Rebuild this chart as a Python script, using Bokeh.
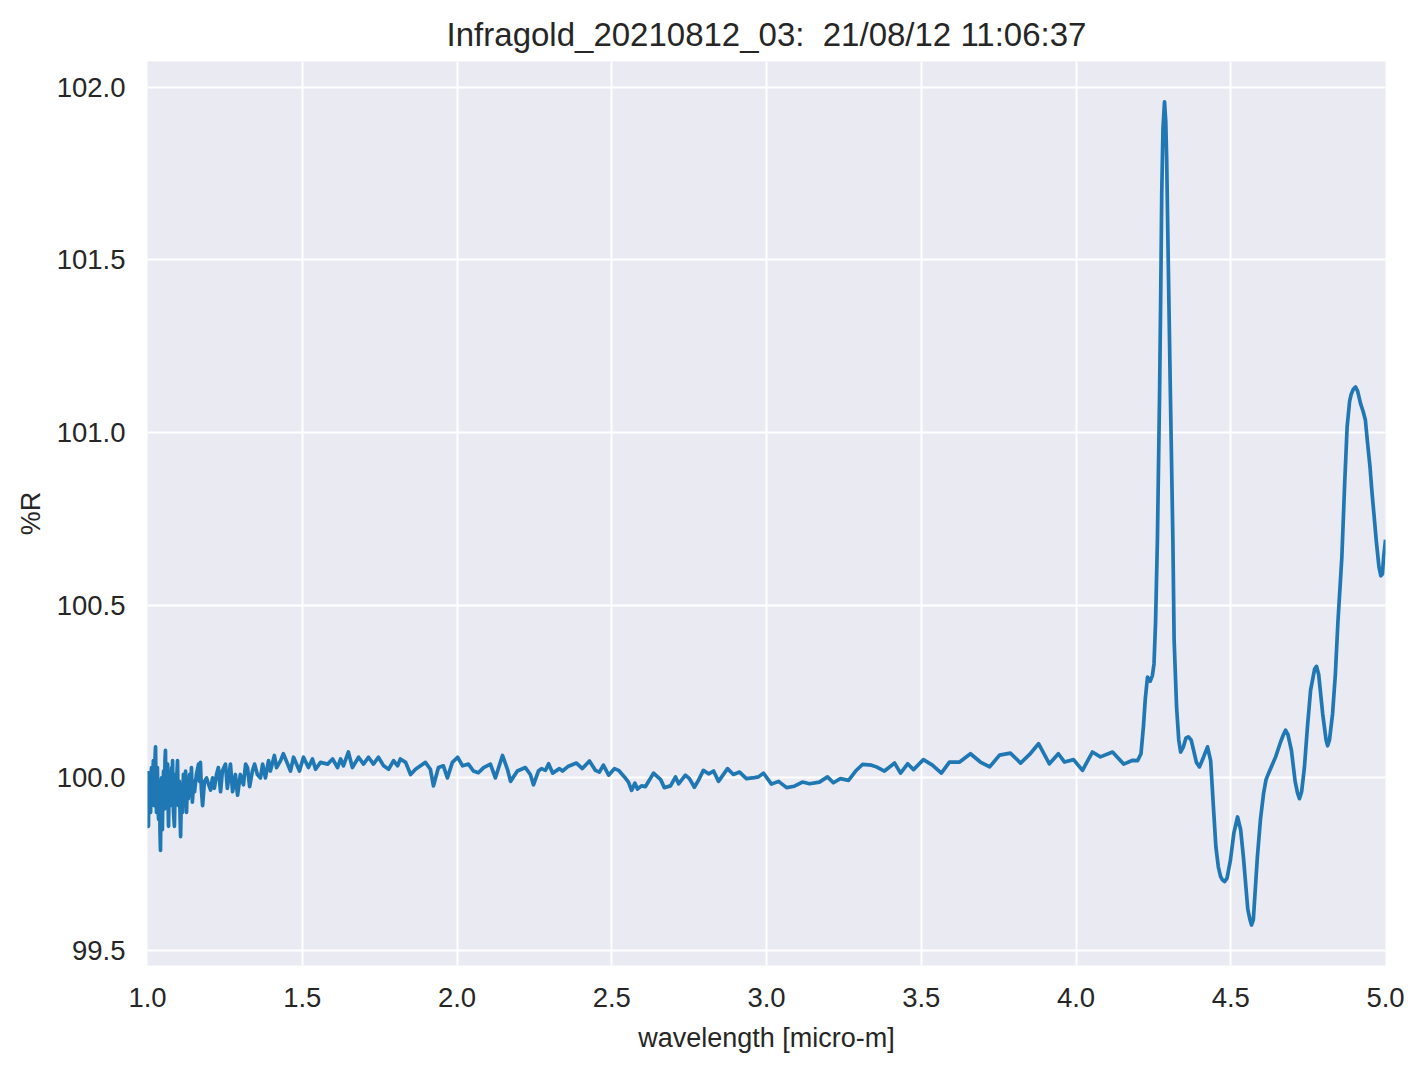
from bokeh.plotting import figure
from bokeh.models import Range1d, FixedTicker, NumeralTickFormatter
from bokeh.embed import file_html
from bokeh.resources import INLINE

TITLE = "Infragold_20210812_03:\u00a0 21/08/12 11:06:37"
X_LABEL = "wavelength [micro-m]"
Y_LABEL = "%R"
x_ticks = [1.0, 1.5, 2.0, 2.5, 3.0, 3.5, 4.0, 4.5, 5.0]
y_ticks = [99.5, 100.0, 100.5, 101.0, 101.5, 102.0]

# noisy short-wave part (1.0 - 1.2 micro-m)
wl_noisy = [1.000, 1.0015, 1.003, 1.0045, 1.006, 1.008, 1.010, 1.0115, 1.013, 1.0145,
            1.016, 1.0175, 1.019, 1.021, 1.023, 1.0245, 1.026, 1.0275, 1.029, 1.0305,
            1.032, 1.034, 1.036, 1.0375, 1.039, 1.0405, 1.042, 1.0435, 1.045, 1.0465,
            1.048, 1.050, 1.052, 1.0535, 1.055, 1.0565, 1.058, 1.0595, 1.061, 1.063,
            1.065, 1.0665, 1.068, 1.0695, 1.071, 1.0725, 1.074, 1.076, 1.078, 1.0795,
            1.081, 1.0825, 1.084, 1.087, 1.090, 1.092, 1.094, 1.0955, 1.097, 1.0985,
            1.100, 1.103, 1.105, 1.107, 1.110, 1.113, 1.116, 1.120, 1.123, 1.126,
            1.129, 1.132, 1.136, 1.139, 1.142, 1.145, 1.149, 1.152, 1.158, 1.165,
            1.168, 1.171, 1.174, 1.178, 1.184, 1.191]
r_noisy = [100.02, 99.92, 99.86, 99.96, 100.00, 99.94, 99.90, 100.01, 100.03, 99.95,
           99.93, 100.02, 100.05, 99.92, 99.96, 100.06, 100.09, 99.97, 99.90, 100.02,
           100.03, 99.91, 99.88, 99.99, 99.97, 99.84, 99.79, 99.93, 100.00, 99.90,
           99.85, 99.97, 100.02, 99.94, 99.91, 100.05, 100.08, 99.98, 99.93, 100.02,
           100.04, 99.92, 99.86, 99.96, 100.00, 99.95, 99.92, 100.00, 100.03, 99.96,
           100.05, 99.95, 99.90, 99.86, 100.01, 99.97, 99.94, 100.02, 100.05, 99.96,
           99.92, 99.99, 99.90, 99.83, 99.98, 99.90, 100.01, 99.92, 100.02, 99.90,
           99.99, 99.94, 100.01, 99.95, 100.03, 99.93, 99.99, 99.96, 100.01, 100.04,
           99.99, 100.045, 99.97, 99.92, 99.99, 100.00]

# flat part (1.2 - 2.27 micro-m)
wl_flat = [1.194, 1.204, 1.210, 1.216, 1.223, 1.229, 1.236, 1.242, 1.252, 1.258,
           1.268, 1.275, 1.284, 1.291, 1.300, 1.310, 1.317, 1.323, 1.330, 1.339,
           1.346, 1.355, 1.365, 1.372, 1.381, 1.391, 1.397, 1.410, 1.417, 1.430,
           1.439, 1.462, 1.472, 1.491, 1.504, 1.520, 1.533, 1.543, 1.559, 1.582,
           1.598, 1.614, 1.624, 1.633, 1.649, 1.662, 1.682, 1.698, 1.714, 1.730,
           1.746, 1.763, 1.779, 1.795, 1.808, 1.817, 1.834, 1.850, 1.866, 1.882,
           1.898, 1.914, 1.924, 1.940, 1.956, 1.969, 1.985, 2.002, 2.018, 2.037,
           2.053, 2.069, 2.086, 2.108, 2.124, 2.147, 2.163, 2.173, 2.195, 2.221,
           2.237, 2.247, 2.263]
r_flat = [99.99, 99.965, 100.00, 99.97, 100.01, 100.03, 99.96, 100.02, 100.04, 99.97,
          100.04, 99.96, 100.01, 99.95, 100.01, 99.98, 100.04, 100.03, 99.975, 100.02,
          100.04, 100.01, 100.00, 100.04, 100.00, 100.05, 100.02, 100.065, 100.03, 100.05,
          100.07, 100.02, 100.06, 100.02, 100.06, 100.03, 100.055, 100.025, 100.045, 100.04,
          100.055, 100.03, 100.055, 100.035, 100.075, 100.03, 100.06, 100.04, 100.06, 100.04,
          100.06, 100.035, 100.025, 100.05, 100.035, 100.055, 100.045, 100.01, 100.025, 100.035,
          100.045, 100.025, 99.977, 100.03, 100.035, 100.00, 100.045, 100.06, 100.035, 100.04,
          100.02, 100.015, 100.03, 100.04, 100.00, 100.065, 100.025, 99.99, 100.02, 100.03,
          100.01, 99.98, 100.02]

# mid-infrared part (2.27 - 4.2 micro-m)
wl_mid = [2.273, 2.286, 2.296, 2.309, 2.331, 2.341, 2.360, 2.386, 2.405, 2.428,
          2.447, 2.460, 2.473, 2.490, 2.509, 2.522, 2.541, 2.554, 2.564, 2.575,
          2.583, 2.596, 2.609, 2.635, 2.658, 2.670, 2.690, 2.706, 2.716, 2.738,
          2.751, 2.767, 2.780, 2.796, 2.813, 2.829, 2.845, 2.874, 2.893, 2.913,
          2.935, 2.961, 2.974, 2.990, 3.016, 3.039, 3.065, 3.090, 3.116, 3.139,
          3.171, 3.197, 3.216, 3.239, 3.265, 3.288, 3.310, 3.339, 3.355, 3.381,
          3.414, 3.433, 3.456, 3.475, 3.507, 3.536, 3.565, 3.591, 3.624, 3.659,
          3.691, 3.721, 3.753, 3.788, 3.821, 3.850, 3.879, 3.914, 3.943, 3.963,
          3.992, 4.021, 4.053, 4.079, 4.118, 4.154, 4.183, 4.199]
r_mid = [100.027, 100.022, 100.041, 100.014, 100.027, 100.020, 100.034, 100.043, 100.027, 100.049,
         100.022, 100.017, 100.037, 100.008, 100.027, 100.022, 100.003, 99.988, 99.964, 99.985,
         99.968, 99.977, 99.975, 100.014, 99.995, 99.972, 99.977, 100.003, 99.983, 100.008,
         99.998, 99.973, 99.993, 100.022, 100.012, 100.020, 99.990, 100.027, 100.010, 100.017,
         99.998, 100.001, 100.003, 100.014, 99.982, 99.990, 99.972, 99.976, 99.988, 99.983,
         99.988, 100.003, 99.986, 99.998, 99.993, 100.020, 100.039, 100.037, 100.032, 100.020,
         100.043, 100.014, 100.041, 100.024, 100.053, 100.037, 100.014, 100.046, 100.046, 100.070,
         100.046, 100.032, 100.066, 100.072, 100.043, 100.068, 100.099, 100.041, 100.070, 100.046,
         100.053, 100.022, 100.075, 100.061, 100.075, 100.040, 100.051, 100.050]

# long-wave part with the strong features (4.2 - 5.0 micro-m)
wl_long = [4.210, 4.218, 4.224, 4.231, 4.240, 4.247, 4.252, 4.257, 4.263, 4.270,
           4.274, 4.277, 4.281, 4.286, 4.290, 4.293, 4.298, 4.305, 4.313, 4.317,
           4.325, 4.332, 4.338, 4.347, 4.355, 4.363, 4.372, 4.380, 4.389, 4.399,
           4.412, 4.425, 4.435, 4.444, 4.452, 4.460, 4.467, 4.473, 4.480, 4.488,
           4.499, 4.510, 4.522, 4.532, 4.541, 4.555, 4.562, 4.567, 4.573, 4.586,
           4.596, 4.606, 4.614, 4.622, 4.645, 4.661, 4.670, 4.677, 4.685, 4.696,
           4.708, 4.716, 4.722, 4.729, 4.738, 4.748, 4.758, 4.771, 4.777, 4.784,
           4.797, 4.808, 4.813, 4.819, 4.829, 4.838, 4.846, 4.859, 4.868, 4.876,
           4.884, 4.889, 4.896, 4.903, 4.910, 4.919, 4.928, 4.935, 4.942, 4.950,
           4.956, 4.963, 4.970, 4.979, 4.985, 4.990, 4.994, 5.000]
r_long = [100.070, 100.150, 100.230, 100.292, 100.280, 100.297, 100.330, 100.448, 100.688, 101.110,
          101.420, 101.690, 101.880, 101.957, 101.900, 101.790, 101.500, 101.110, 100.690, 100.400,
          100.205, 100.110, 100.075, 100.090, 100.115, 100.119, 100.110, 100.080, 100.045, 100.032,
          100.060, 100.090, 100.050, 99.916, 99.800, 99.742, 99.715, 99.705, 99.700, 99.710,
          99.762, 99.840, 99.887, 99.850, 99.770, 99.620, 99.590, 99.574, 99.590, 99.771,
          99.880, 99.955, 99.995, 100.013, 100.061, 100.104, 100.125, 100.138, 100.125, 100.080,
          99.990, 99.955, 99.940, 99.960, 100.030, 100.150, 100.254, 100.315, 100.323, 100.300,
          100.186, 100.110, 100.093, 100.110, 100.186, 100.300, 100.447, 100.640, 100.850, 101.016,
          101.090, 101.110, 101.125, 101.132, 101.120, 101.085, 101.060, 101.036, 100.970, 100.900,
          100.830, 100.760, 100.688, 100.610, 100.585, 100.590, 100.640, 100.690]

wavelength = wl_noisy + wl_flat + wl_mid + wl_long
reflectance = r_noisy + r_flat + r_mid + r_long

FONT = "Liberation Sans"
TXT = "#262626"

p = figure(output_backend="svg", toolbar_location=None,
           frame_width=1238, frame_height=904,
           min_border_left=147, min_border_right=30,
           min_border_top=61, min_border_bottom=88,
           x_range=Range1d(1.0, 5.0), y_range=Range1d(99.457, 102.074),
           title=TITLE)

p.background_fill_color = "#eaeaf2"
p.border_fill_color = "white"
p.outline_line_color = None

p.title.align = "center"
p.title.text_font = FONT
p.title.text_font_size = "33px"
p.title.text_font_style = "normal"
p.title.text_color = TXT
p.title.standoff = 18

p.line(wavelength, reflectance, line_color="#1f77b4", line_width=3.7,
       line_join="round")

for ax in (p.xaxis[0], p.yaxis[0]):
    ax.axis_line_color = None
    ax.major_tick_line_color = None
    ax.minor_tick_line_color = None
    ax.major_label_text_font = FONT
    ax.major_label_text_font_size = "27.5px"
    ax.major_label_text_color = TXT
    ax.axis_label_text_font = FONT
    ax.axis_label_text_font_size = "27px"
    ax.axis_label_text_font_style = "normal"
    ax.axis_label_text_color = TXT
    ax.formatter = NumeralTickFormatter(format="0.0")

p.xaxis[0].ticker = FixedTicker(ticks=x_ticks)
p.yaxis[0].ticker = FixedTicker(ticks=y_ticks)
p.xaxis[0].axis_label = X_LABEL
p.yaxis[0].axis_label = Y_LABEL
p.xaxis[0].major_label_standoff = 16
p.yaxis[0].major_label_standoff = 16
p.xaxis[0].axis_label_standoff = 13
p.yaxis[0].axis_label_standoff = 8

p.grid.grid_line_color = "white"
p.grid.grid_line_width = 2
p.xgrid[0].ticker = FixedTicker(ticks=x_ticks)
p.ygrid[0].ticker = FixedTicker(ticks=y_ticks)

open("out.html", "w").write(file_html(p, INLINE))
